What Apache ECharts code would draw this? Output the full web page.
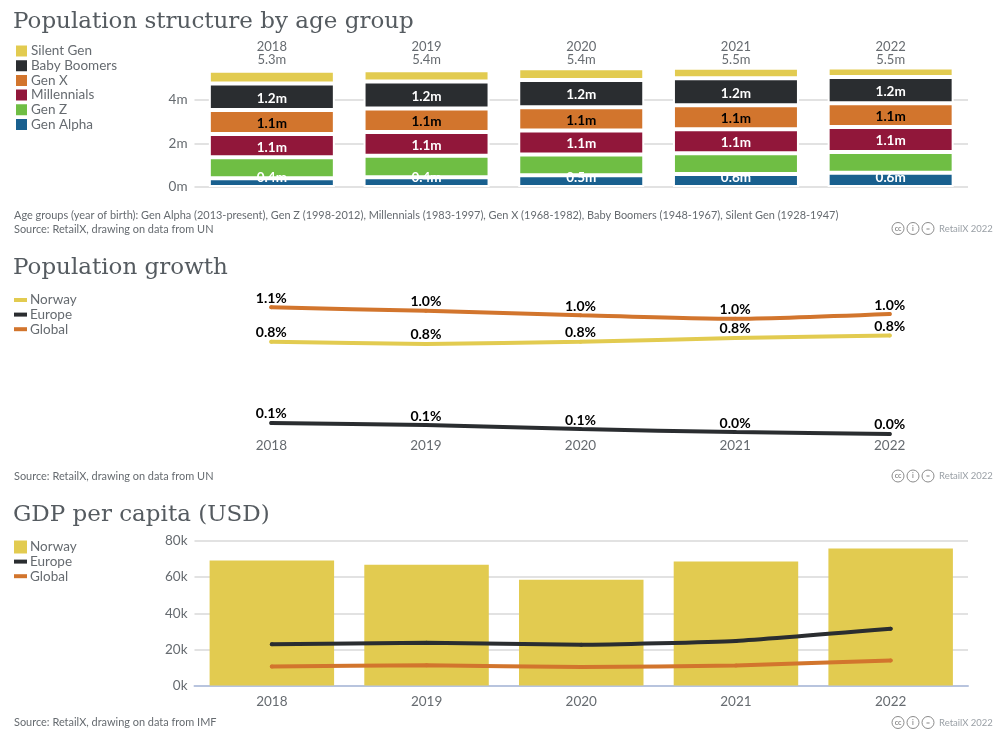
<!DOCTYPE html>
<html><head><meta charset="utf-8">
<script src="https://cdn.jsdelivr.net/npm/echarts@6/dist/echarts.min.js"></script>
<style>html,body{margin:0;padding:0;background:#fff}
.c{position:absolute;left:0;width:1007px}</style></head><body>
<div id="c1" class="c" style="top:0;height:245px"></div>
<div id="c2" class="c" style="top:245px;height:250px"></div>
<div id="c3" class="c" style="top:495px;height:248px"></div>
<script>
var years = ['2018','2019','2020','2021','2022'];
var totals = ['5.3m','5.4m','5.4m','5.5m','5.5m'];
var genAlpha = [0.40,0.449,0.54,0.60,0.649];
var genZ = [0.96,0.98,0.95,0.95,0.96];
var millennials = [1.07,1.09,1.10,1.10,1.14];
var genX = [1.10,1.08,1.07,1.10,1.09];
var boomers = [1.21,1.24,1.24,1.23,1.20];
var silentGen = [0.59,0.51,0.54,0.48,0.44];
var growthNorway = [0.78,0.763,0.78,0.812,0.833];
var growthEurope = [0.11,0.093,0.06,0.035,0.02];
var growthGlobal = [1.065,1.036,1.0,0.97,1.01];
var gdpNorway = [69200,66900,58600,68600,75800];
var gdpEurope = [22800,23600,22500,24700,31400];
var gdpGlobal = [10500,11200,10200,11100,13900];

var SANS = 'Lato, "Noto Sans", sans-serif';
var SERIF = '"DejaVu Serif", serif';
var TXT = '#666b70', HEAD = '#555b60', GRID = '#e2e2e2';
var YEL = '#e2cb50', BLK = '#2a2d30', ORG = '#d2752d', RED = '#91173a', GRN = '#6fbe44', BLU = '#19608f';

function titleList(head, headY, notes, noteY) {
  var t = [{text: head, left: 13, top: headY, padding: 0, textStyle: {fontFamily: SERIF, fontSize: 23, fontWeight: 'normal', color: HEAD}}];
  notes.forEach(function (n, i) {
    t.push({text: n, left: 14, top: noteY[i], padding: 0, textStyle: {fontFamily: SANS, fontSize: 10.95, fontWeight: 'normal', color: TXT}});
  });
  return t;
}
function credit(y) {
  var g = [];
  [[898,'cc'],[913,'i'],[928,'=']].forEach(function (c) {
    g.push({type: 'circle', shape: {cx: c[0], cy: y, r: 6}, style: {fill: '#fff', stroke: '#8a8a8a', lineWidth: 1}});
    g.push({type: 'text', x: c[0], y: y, style: {text: c[1], fill: '#8a8a8a', font: 'bold 7px ' + SANS, align: 'center', verticalAlign: 'middle'}});
  });
  g.push({type: 'text', x: 939, y: y, style: {text: 'RetailX 2022', fill: '#9aa0a6', font: '9.5px ' + SANS, align: 'left', verticalAlign: 'middle'}});
  return g;
}
function legend(names, top, gap) {
  return {orient: 'vertical', left: 14, top: top, padding: 0, icon: 'rect', itemWidth: 13, itemHeight: 13, itemGap: gap,
    selectedMode: false, data: names, textStyle: {fontFamily: SANS, fontSize: 13.5, color: TXT, padding: [0,0,0,-2]}};
}
function lineItem(name) { return {name: name, icon: 'path://M0 0L0 0M0 4.5L13 4.5L13 8.5L0 8.5ZM13 13L13 13'}; }
function stack(name, vals, color, label) {
  return {name: name, type: 'bar', stack: 'a', data: vals, barWidth: 126,
    itemStyle: {color: color, borderColor: '#fff', borderWidth: 2}, label: label};
}
function segLabel(color) {
  return {show: true, position: 'inside', offset: [0,1.5], color: color, fontFamily: SANS, fontSize: 13.5, fontWeight: 'bold',
    formatter: function (p) { return p.value.toFixed(1) + 'm'; }};
}

echarts.init(document.getElementById('c1')).setOption({
  animation: false,
  title: titleList('Population structure by age group', 11,
    ['Age groups (year of birth): Gen Alpha (2013-present), Gen Z (1998-2012), Millennials (1983-1997), Gen X (1968-1982), Baby Boomers (1948-1967), Silent Gen (1928-1947)',
     'Source: RetailX, drawing on data from UN'], [210, 223.5]),
  legend: legend(['Silent Gen','Baby Boomers','Gen X','Millennials','Gen Z','Gen Alpha'], 43.5, -0.3),
  grid: {left: 194.5, width: 773.5, top: 67, height: 120},
  xAxis: {type: 'category', position: 'top', data: years.map(function (y, i) { return y + '\n' + totals[i]; }),
    axisLine: {show: false}, axisTick: {show: false},
    axisLabel: {color: TXT, fontFamily: SANS, fontSize: 13, lineHeight: 13.5, margin: 0}},
  yAxis: {type: 'value', min: 0, max: 5.5, interval: 2, axisLine: {show: false}, axisTick: {show: false},
    splitLine: {showMaxLine: false, lineStyle: {color: GRID, width: 2}},
    axisLabel: {showMaxLabel: false, color: TXT, fontFamily: SANS, fontSize: 13.5, margin: 7, padding: [0,0,3,0], formatter: '{value}m'}},
  series: [
    stack('Gen Alpha', genAlpha, BLU, {show: true, position: 'insideBottom', distance: 2.5, color: '#fff', fontFamily: SANS, fontSize: 13.5, fontWeight: 'bold',
      formatter: function (p) { return p.value.toFixed(1) + 'm'; }}),
    stack('Gen Z', genZ, GRN, {show: false}),
    stack('Millennials', millennials, RED, segLabel('#fff')),
    stack('Gen X', genX, ORG, segLabel('#000')),
    stack('Baby Boomers', boomers, BLK, segLabel('#fff')),
    stack('Silent Gen', silentGen, YEL, {show: false})
  ],
  graphic: credit(228.5)
});

function growthLine(name, vals, color) {
  return {name: name, type: 'line', data: vals, symbol: 'circle', symbolSize: 4, showSymbol: true, smooth: 0.2,
    lineStyle: {color: color, width: 4, cap: 'round'}, itemStyle: {color: color},
    label: {show: true, position: 'top', distance: 0, color: '#000', fontFamily: SANS, fontSize: 14, fontWeight: 'bold',
      formatter: function (p) { return p.value.toFixed(1) + '%'; }}};
}
echarts.init(document.getElementById('c2')).setOption({
  animation: false,
  title: titleList('Population growth', 12, ['Source: RetailX, drawing on data from UN'], [226]),
  legend: legend([lineItem('Norway'), lineItem('Europe'), lineItem('Global')], 48, 0.6),
  grid: {left: 194, width: 773, top: 46, height: 145.3},
  xAxis: {type: 'category', data: years, axisLine: {show: false}, axisTick: {show: false},
    axisLabel: {color: TXT, fontFamily: SANS, fontSize: 13.5, margin: 2}},
  yAxis: {type: 'value', min: 0, max: 1.2, show: false},
  series: [growthLine('Norway', growthNorway, YEL), growthLine('Europe', growthEurope, BLK), growthLine('Global', growthGlobal, ORG)],
  graphic: credit(231)
});

function gdpLine(name, vals, color) {
  return {name: name, type: 'line', data: vals, symbol: 'circle', symbolSize: 4, smooth: 0.15, z: 5, lineStyle: {color: color, width: 4, cap: 'round'}, itemStyle: {color: color}};
}
echarts.init(document.getElementById('c3')).setOption({
  animation: false,
  title: titleList('GDP per capita (USD)', 9, ['Source: RetailX, drawing on data from IMF'], [222]),
  legend: legend(['Norway', lineItem('Europe'), lineItem('Global')], 45, 0.6),
  grid: {left: 194.5, width: 773.5, top: 46, height: 144.5},
  xAxis: {type: 'category', data: years, axisLine: {show: true, lineStyle: {color: '#b8c4de', width: 2}}, axisTick: {show: false},
    axisLabel: {color: TXT, fontFamily: SANS, fontSize: 13.5, margin: 9}},
  yAxis: {type: 'value', min: 0, max: 80000, interval: 20000, axisLine: {show: false}, axisTick: {show: false},
    splitLine: {lineStyle: {color: GRID, width: 2}},
    axisLabel: {color: TXT, fontFamily: SANS, fontSize: 13.5, margin: 7, formatter: function (v) { return (v / 1000) + 'k'; }}},
  series: [
    {name: 'Norway', type: 'bar', data: gdpNorway, barWidth: 124.5, itemStyle: {color: YEL}},
    gdpLine('Europe', gdpEurope, BLK),
    gdpLine('Global', gdpGlobal, ORG)
  ],
  graphic: credit(227.5)
});
</script></body></html>
